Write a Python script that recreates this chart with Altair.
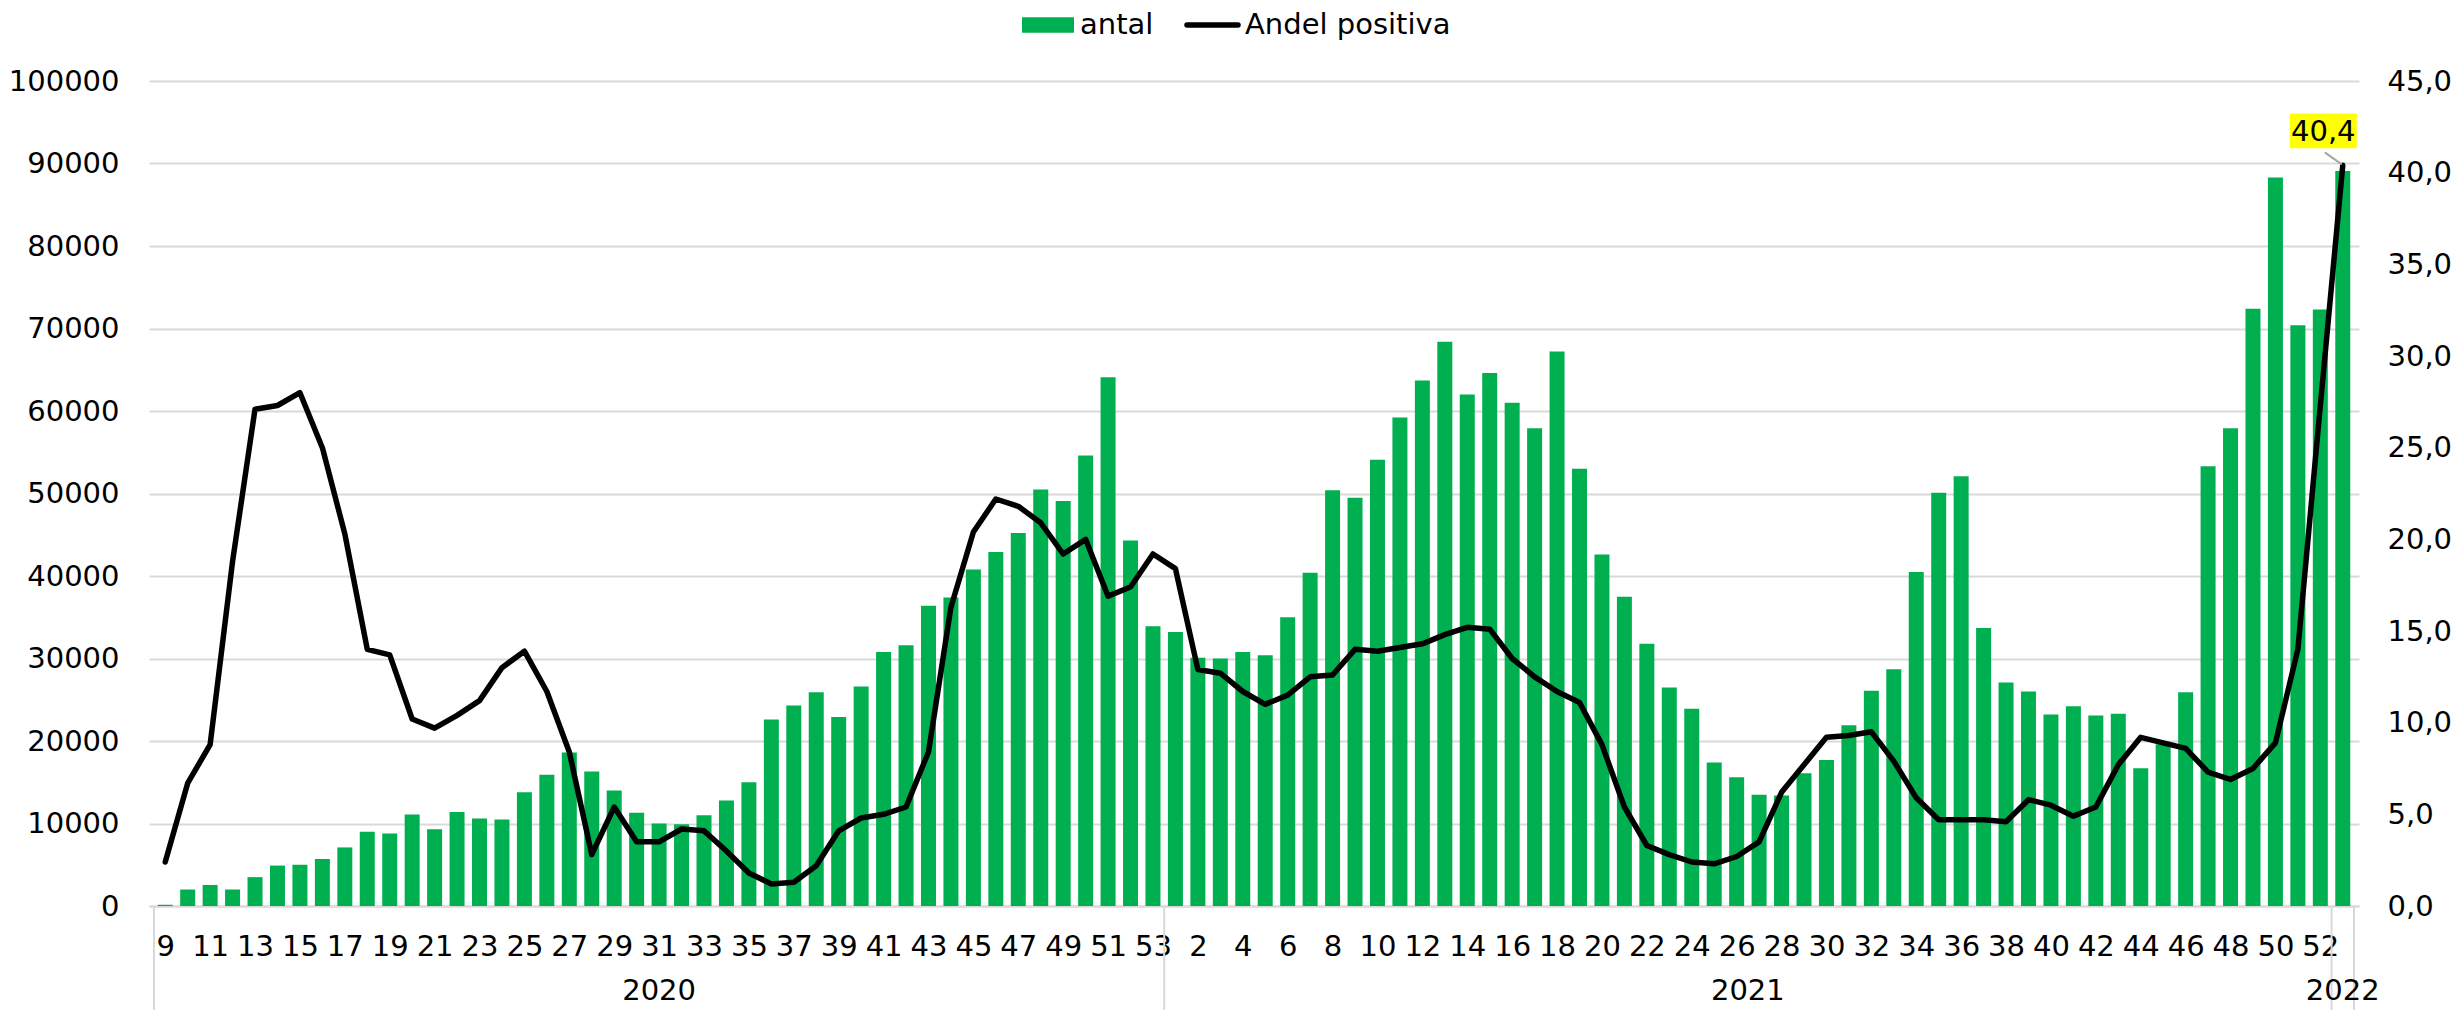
import json
import altair as alt
import pandas as pd

# ---------------- data ----------------
years = ["2020", "2021", "2022"]
weeks_2020 = list(range(9, 54))
weeks_2021 = list(range(1, 53))
weeks_2022 = [1]

antal_2020 = [150, 2000, 2550, 2000, 3500, 4900, 5000, 5700, 7100, 9000,
              8800, 11100, 9300, 11400, 10600, 10500, 13800, 15900, 18600, 16300,
              14000, 11300, 10000, 9900, 11000, 12800, 15000, 22600, 24300, 25900,
              22900, 26600, 30800, 31600, 36400, 37400, 40800, 42900, 45200, 50500,
              49100, 54600, 64100, 44300, 33900]
antal_2021 = [33200, 30100, 30000, 30800, 30400, 35000, 40400, 50400, 49500, 54100,
              59200, 63700, 68400, 62000, 64600, 61000, 57900, 67200, 53000, 42600,
              37500, 31800, 26500, 23900, 17400, 15600, 13500, 13400, 16100, 17700,
              21900, 26100, 28700, 40500, 50100, 52100, 33700, 27100, 26000, 23200,
              24200, 23100, 23300, 16700, 19600, 25900, 53300, 57900, 72400, 88300,
              70400, 72300]
antal_2022 = [89100]

andel_2020 = [2.4, 6.7, 8.8, 18.8, 27.1, 27.3, 28.0, 25.0, 20.3, 14.0,
              13.7, 10.2, 9.7, 10.4, 11.2, 13.0, 13.9, 11.7, 8.4, 2.8,
              5.4, 3.5, 3.5, 4.2, 4.1, 3.0, 1.8, 1.2, 1.3, 2.2,
              4.1, 4.8, 5.0, 5.4, 8.4, 16.3, 20.4, 22.2, 21.8, 20.9,
              19.2, 20.0, 16.9, 17.4, 19.2]
andel_2021 = [18.4, 12.9, 12.7, 11.7, 11.0, 11.5, 12.5, 12.6, 14.0, 13.9,
              14.1, 14.3, 14.8, 15.2, 15.1, 13.5, 12.5, 11.7, 11.1, 8.8,
              5.4, 3.3, 2.8, 2.4, 2.3, 2.7, 3.5, 6.2, 7.7, 9.2,
              9.3, 9.5, 7.9, 5.9, 4.7, 4.7, 4.7, 4.6, 5.8, 5.5,
              4.9, 5.4, 7.7, 9.2, 8.9, 8.6, 7.3, 6.9, 7.5, 8.9,
              14.0, 27.3]
andel_2022 = [40.4]

series_names = ["antal", "Andel positiva"]
left_ticks = list(range(0, 100001, 10000))
right_ticks = list(range(0, 46, 5))

# ---------------- table ----------------
rows = []
for yr, wks, an, pc in zip(years,
                           [weeks_2020, weeks_2021, weeks_2022],
                           [antal_2020, antal_2021, antal_2022],
                           [andel_2020, andel_2021, andel_2022]):
    for w, a, p in zip(wks, an, pc):
        rows.append({"year": yr, "week": str(w), "antal": a, "andel": p})
df = pd.DataFrame(rows)
df["idx"] = range(len(df))
N = len(df)

counts = [len(weeks_2020), len(weeks_2021), len(weeks_2022)]
starts = [sum(counts[:i]) for i in range(len(counts))]
year_df = pd.DataFrame({
    "year": years,
    "pos": [s + (c - 1) / 2 for s, c in zip(starts, counts)],
})
sep_df = pd.DataFrame({"pos": [s - 0.5 for s in starts] + [N - 0.5]})
legend_df = pd.DataFrame({"name": series_names})
last_df = df[df["idx"] == N - 1]

week_labels = df["week"].tolist()

# ---------------- style ----------------
W, H = 2210, 825
GREEN = "#00B050"
GRID = "#D9D9D9"
FONT = "DejaVu Sans"
FS = 29

xscale = alt.Scale(domain=[-0.5, N - 0.5], nice=False, zero=False)
yscale_l = alt.Scale(domain=[0, 100000], nice=False, zero=True)
yscale_r = alt.Scale(domain=[0, 45], nice=False, zero=True)

bars = alt.Chart(df).mark_bar(size=15, color=GREEN).encode(
    x=alt.X("idx:Q", scale=xscale,
            axis=alt.Axis(values=list(range(0, N, 2)),
                          labelExpr=json.dumps(week_labels) + "[datum.value]",
                          title=None, grid=False, ticks=False,
                          domain=True, domainColor=GRID, domainWidth=2,
                          labelFontSize=FS, labelFont=FONT, labelColor="black",
                          labelPadding=26, labelOverlap=False, labelFlush=False)),
    y=alt.Y("antal:Q", scale=yscale_l,
            axis=alt.Axis(orient="left", values=left_ticks, format="d",
                          title=None, grid=True, gridColor=GRID, gridWidth=2,
                          ticks=False, domain=False,
                          labelFontSize=FS, labelFont=FONT, labelColor="black",
                          labelPadding=30)),
)

line = alt.Chart(df).mark_line(color="black", strokeWidth=5.5,
                               strokeJoin="round", strokeCap="round").encode(
    x=alt.X("idx:Q", scale=xscale),
    y=alt.Y("andel:Q", scale=yscale_r,
            axis=alt.Axis(orient="right", values=right_ticks,
                          labelExpr="replace(format(datum.value, '.1f'), '.', ',')",
                          title=None, grid=False, ticks=False, domain=False,
                          labelFontSize=FS, labelFont=FONT, labelColor="black",
                          labelPadding=28)),
)

# annotation of the last value
box_path = "M-1,-0.52H1V0.52H-1Z"
ann_box = alt.Chart(last_df).mark_point(
    shape=box_path, size=67 * 67, filled=True, fill="#FFFF00",
    opacity=1, strokeWidth=0, xOffset=-19.5, yOffset=-34.5).encode(
    x=alt.X("idx:Q", scale=xscale),
    y=alt.Y("andel:Q", scale=yscale_r, axis=None),
)
ann_text = alt.Chart(last_df).transform_calculate(
    lab="replace(format(datum.andel, '.1f'), '.', ',')"
).mark_text(fontSize=FS, font=FONT, color="black", align="center",
            baseline="middle", xOffset=-19.5, yOffset=-33).encode(
    x=alt.X("idx:Q", scale=xscale),
    y=alt.Y("andel:Q", scale=yscale_r, axis=None),
    text="lab:N",
)
ann_leader = alt.Chart(last_df).mark_rule(
    color="#A6A6A6", strokeWidth=2,
    xOffset=-18, yOffset=-13, x2Offset=-1, y2Offset=-1).encode(
    x=alt.X("idx:Q", scale=xscale),
    x2="idx:Q",
    y=alt.Y("andel:Q", scale=yscale_r, axis=None),
    y2="andel:Q",
)

# category separators and year labels
seps = alt.Chart(sep_df).mark_rule(color=GRID, strokeWidth=2).encode(
    x=alt.X("pos:Q", scale=xscale),
    y=alt.value(H),
    y2=alt.value(H + 120),
)
year_text = alt.Chart(year_df).mark_text(
    fontSize=FS, font=FONT, color="black", align="center", baseline="middle").encode(
    x=alt.X("pos:Q", scale=xscale),
    y=alt.value(H + 85),
    text="year:N",
)

# legend
leg_y = -56
leg_rect = alt.Chart(legend_df).transform_filter(
    alt.datum.name == series_names[0]).mark_rule(color=GREEN, strokeWidth=15.5).encode(
    x=alt.value(873), x2=alt.value(925), y=alt.value(leg_y))
leg_line = alt.Chart(legend_df).transform_filter(
    alt.datum.name == series_names[1]).mark_rule(color="black", strokeWidth=5.5,
                                                 strokeCap="round").encode(
    x=alt.value(1038), x2=alt.value(1089), y=alt.value(leg_y))
leg_t1 = alt.Chart(legend_df).transform_filter(
    alt.datum.name == series_names[0]).mark_text(
    fontSize=FS, font=FONT, color="black", align="left", baseline="middle").encode(
    x=alt.value(931), y=alt.value(leg_y), text="name:N")
leg_t2 = alt.Chart(legend_df).transform_filter(
    alt.datum.name == series_names[1]).mark_text(
    fontSize=FS, font=FONT, color="black", align="left", baseline="middle").encode(
    x=alt.value(1096), y=alt.value(leg_y), text="name:N")

chart = alt.layer(
    bars, line, ann_leader, ann_box, ann_text, seps, year_text,
    leg_rect, leg_line, leg_t1, leg_t2,
).resolve_scale(y="independent").properties(
    width=W, height=H,
    autosize=alt.AutoSizeParams(type="none"),
    padding={"left": 141, "top": 73, "right": 92, "bottom": 104},
    background="white",
).configure_view(stroke=None)

chart.save("out.html", embed_options={"renderer": "svg", "actions": False})
